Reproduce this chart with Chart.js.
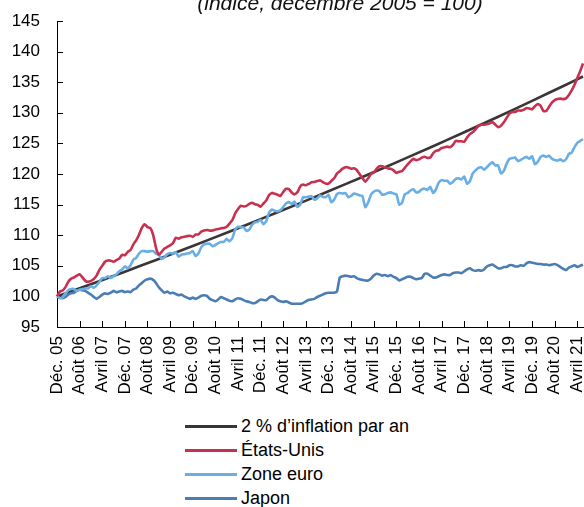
<!DOCTYPE html>
<html>
<head>
<meta charset="utf-8">
<script src="https://cdn.jsdelivr.net/npm/chart.js@4.4.1/dist/chart.umd.min.js"></script>
<style>
html,body{margin:0;padding:0;background:#fff;}
#wrap{position:relative;width:584px;height:507px;overflow:hidden;font-family:"Liberation Sans",Arial,sans-serif;color:#000;}
#c{position:absolute;left:0;top:0;}
#title{position:absolute;left:140px;width:400px;top:-7px;text-align:center;font-style:italic;font-size:21px;line-height:20px;color:#111;white-space:nowrap;}
#legend{position:absolute;left:185px;top:414px;}
.row{position:relative;height:24px;line-height:24px;font-size:18px;white-space:nowrap;}
.sw{position:absolute;left:0;top:11px;width:52px;height:3px;}
.lb{position:absolute;left:56px;top:0;}
</style>
</head>
<body>
<div id="wrap">
  <canvas id="c" width="584" height="410"></canvas>
  <div id="title">(indice, décembre 2005 = 100)</div>
  <div id="legend"></div>
</div>
<script>
// ---- Data (month index 0 = Déc. 2005, monthly to juin 2021) ----
const tickMonths = [0,8,16,24,32,40,48,56,64,72,80,88,96,104,112,120,128,136,144,152,160,168,176,184];
const tickLabels = ["Déc. 05","Août 06","Avril 07","Déc. 07","Août 08","Avril 09","Déc. 09","Août 10","Avril 11","Déc. 11","Août 12","Avril 13","Déc. 13","Août 14","Avril 15","Déc. 15","Août 16","Avril 17","Déc. 17","Août 18","Avril 19","Déc. 19","Août 20","Avril 21"];
const yTicks = [95,100,105,110,115,120,125,130,135,140,145];

const seriesNames = ["2 % d\u2019inflation par an","États-Unis","Zone euro","Japon"];

const twoPctMonths = [0,12,24,36,48,60,72,84,96,108,120,132,144,156,168,180,186];
const twoPctValues = [100,102.0,104.04,106.12,108.24,110.41,112.62,114.87,117.17,119.51,121.90,124.34,126.82,129.36,131.95,134.59,135.93];

const usValues = [100.00,
100.76,100.97,101.52,102.39,102.90,103.10,103.40,103.61,103.10,102.54,102.39,102.54,
102.85,103.40,104.35,105.02,105.67,105.87,105.84,105.65,105.94,106.17,106.80,106.73,
107.26,107.57,108.50,109.16,110.08,111.19,111.77,111.32,111.17,110.05,107.94,106.82,
107.29,107.82,108.08,108.35,108.67,109.60,109.43,109.67,109.74,109.85,109.92,109.73,
110.11,110.13,110.59,110.78,110.86,110.75,110.78,110.93,111.00,111.13,111.18,111.37,
111.90,112.45,113.55,114.28,114.82,114.70,114.80,115.11,115.29,115.05,114.95,114.67,
115.18,115.68,116.56,116.91,116.78,116.60,116.41,117.06,117.59,117.54,116.98,116.67,
117.01,117.97,118.28,118.16,118.37,118.65,118.70,118.84,118.98,118.67,118.43,118.42,
118.86,119.30,120.07,120.46,120.88,121.11,121.06,120.86,120.95,120.65,120.00,119.32,
118.75,119.27,119.98,120.22,120.84,121.26,121.27,121.10,120.91,120.85,120.60,120.19,
120.38,120.48,121.00,121.58,122.07,122.47,122.27,122.38,122.68,122.83,122.64,122.68,
123.39,123.78,123.88,124.25,124.36,124.47,124.38,124.76,125.42,125.34,125.34,125.27,
125.95,126.52,126.81,127.31,127.84,128.04,128.05,128.12,128.27,128.50,128.07,127.66,
127.90,128.44,129.17,129.85,130.13,130.15,130.37,130.36,130.47,130.77,130.70,130.58,
131.08,131.44,131.16,130.28,130.28,131.00,131.66,132.07,132.26,132.31,132.23,132.36,
132.92,133.65,134.59,135.70,136.79,138.06];

const euroValues = [100.0,
99.7,99.9,100.5,101.0,101.2,101.2,100.9,101.1,101.2,101.3,101.3,101.7,
101.4,101.8,102.4,103.0,103.0,103.3,103.0,103.3,103.6,104.1,104.4,104.9,
104.6,105.1,106.0,106.3,107.0,107.4,107.4,107.3,107.4,107.4,107.0,106.8,
106.1,106.4,106.9,107.1,107.0,107.2,106.5,106.8,106.9,107.0,107.1,107.4,
106.6,107.0,108.0,108.5,108.6,108.6,108.2,108.4,108.7,108.9,108.9,109.4,
109.0,109.5,110.9,111.4,111.3,111.3,110.7,110.9,111.7,112.1,112.2,112.5,
111.8,112.3,113.7,114.2,114.0,113.9,114.1,114.6,115.2,115.4,115.1,115.5,
114.6,115.0,116.2,116.2,116.3,116.4,115.8,116.0,116.5,116.3,116.2,116.6,
115.4,115.8,116.7,116.9,116.8,116.9,116.2,116.4,116.8,116.7,116.5,116.4,
114.6,115.3,116.6,117.1,117.3,117.2,116.6,116.7,116.9,117.0,116.8,116.7,
115.0,115.3,116.7,116.9,117.3,117.5,117.0,117.1,117.5,117.6,117.4,117.9,
116.9,117.5,118.6,119.0,118.9,118.9,118.4,118.7,119.2,119.3,119.1,119.6,
118.4,118.8,120.1,120.6,121.0,121.1,120.7,121.1,121.6,121.9,121.4,121.4,
120.1,120.5,121.7,122.5,122.6,122.7,122.1,122.3,122.6,122.8,122.5,122.9,
121.6,122.0,122.8,123.0,122.8,123.0,122.5,122.3,122.2,122.4,122.1,122.4,
123.3,123.5,124.4,125.1,125.4,125.7];

const japanValues = [100.0,
99.8,99.7,99.9,100.3,100.5,100.6,100.9,101.1,101.0,100.9,100.6,100.3,
99.9,99.6,99.9,100.3,100.5,100.4,100.6,100.9,100.7,100.8,100.9,100.7,
100.8,100.7,101.1,101.3,101.8,102.2,102.6,102.8,102.9,102.7,102.2,101.5,
101.0,100.6,100.8,100.5,100.6,100.4,100.2,100.3,100.0,99.8,99.6,99.8,
99.6,99.8,100.1,100.2,100.1,99.6,99.4,99.2,99.5,99.9,99.7,99.5,
99.3,99.2,99.5,99.7,99.6,99.4,99.2,99.1,98.9,98.9,99.2,99.5,
99.4,99.4,99.8,100.0,99.8,99.4,99.2,99.1,99.2,99.0,98.8,98.8,
98.8,98.8,98.9,99.2,99.4,99.5,99.6,99.9,100.1,100.3,100.5,100.6,
100.6,100.6,100.8,103.1,103.3,103.4,103.3,103.2,103.3,103.0,102.8,102.7,
102.6,102.6,102.9,103.4,103.7,103.6,103.4,103.5,103.3,103.5,103.2,103.0,
102.6,102.8,103.0,103.2,103.2,103.0,102.8,102.9,103.0,103.7,103.7,103.4,
103.1,103.1,103.3,103.5,103.6,103.5,103.5,103.8,103.9,103.9,103.8,104.1,
104.4,104.6,104.3,104.2,104.3,104.2,104.4,104.9,105.1,105.2,104.9,104.6,
104.6,104.8,104.8,105.1,105.1,104.9,104.9,105.1,105.0,105.4,105.6,105.5,
105.4,105.3,105.3,105.2,105.2,105.1,105.2,105.3,105.1,104.8,104.5,104.3,
104.7,104.9,105.1,104.8,105.0,105.2];

const seriesColors = ["#3b3535","#c8304f","#6aaee6","#4a7db4"];

// ---- Build ----
const monthly = arr => arr.map((v,i)=>({x:i,y:v}));
const pairs = (xs,ys) => xs.map((x,i)=>({x:x,y:ys[i]}));

const innerTicks = {
  id:'innerTicks',
  beforeDatasetsDraw(chart){
    const {ctx, chartArea:a, scales:{x,y}} = chart;
    ctx.save(); ctx.strokeStyle='#000'; ctx.lineWidth=1; ctx.beginPath();
    y.ticks.forEach(t=>{const py=Math.round(y.getPixelForValue(t.value))+0.5; ctx.moveTo(a.left,py); ctx.lineTo(a.left+6,py);});
    x.ticks.forEach(t=>{const px=Math.round(x.getPixelForValue(t.value))+0.5; ctx.moveTo(px,a.bottom); ctx.lineTo(px,a.bottom-6);});
    ctx.stroke(); ctx.restore();
  }
};

const ds = (i,data,order)=>({label:seriesNames[i],data:data,borderColor:seriesColors[i],backgroundColor:seriesColors[i],borderWidth:2.6,pointRadius:0,tension:0.15,fill:false,clip:4,order:order});

new Chart(document.getElementById('c'),{
  type:'line',
  data:{datasets:[
    ds(0,pairs(twoPctMonths,twoPctValues),1),
    ds(1,monthly(usValues),0),
    ds(2,monthly(euroValues),0),
    ds(3,monthly(japanValues),0)
  ]},
  options:{
    responsive:false,animation:false,devicePixelRatio:1,
    layout:{padding:{top:21,right:1,left:0,bottom:0}},
    plugins:{legend:{display:false},tooltip:{enabled:false},title:{display:false}},
    scales:{
      x:{type:'linear',min:0,max:186,
        afterBuildTicks:s=>{s.ticks=tickMonths.map(v=>({value:v}));},
        afterFit:s=>{s.height=83;s.paddingLeft=0;s.paddingRight=0;},
        grid:{display:false,drawTicks:false},
        border:{display:true,color:'#000',width:1},
        ticks:{autoSkip:false,maxRotation:90,minRotation:90,padding:9,color:'#000',
          font:{family:'"Liberation Sans", Arial, sans-serif',size:17},
          callback:(v,i)=>tickLabels[i]}
      },
      y:{min:95,max:145,
        afterBuildTicks:s=>{s.ticks=yTicks.map(v=>({value:v}));},
        afterFit:s=>{s.width=57;s.paddingTop=0;s.paddingBottom=0;},
        grid:{display:false,drawTicks:false},
        border:{display:true,color:'#000',width:1},
        ticks:{padding:17,color:'#000',font:{family:'"Liberation Sans", Arial, sans-serif',size:17}}
      }
    }
  },
  plugins:[innerTicks]
});

// HTML legend from series names/colours
const leg=document.getElementById('legend');
seriesNames.forEach((n,i)=>{
  const r=document.createElement('div'); r.className='row';
  const s=document.createElement('div'); s.className='sw'; s.style.background=seriesColors[i];
  const l=document.createElement('div'); l.className='lb'; l.textContent=n;
  r.appendChild(s); r.appendChild(l); leg.appendChild(r);
});
</script>
</body>
</html>
